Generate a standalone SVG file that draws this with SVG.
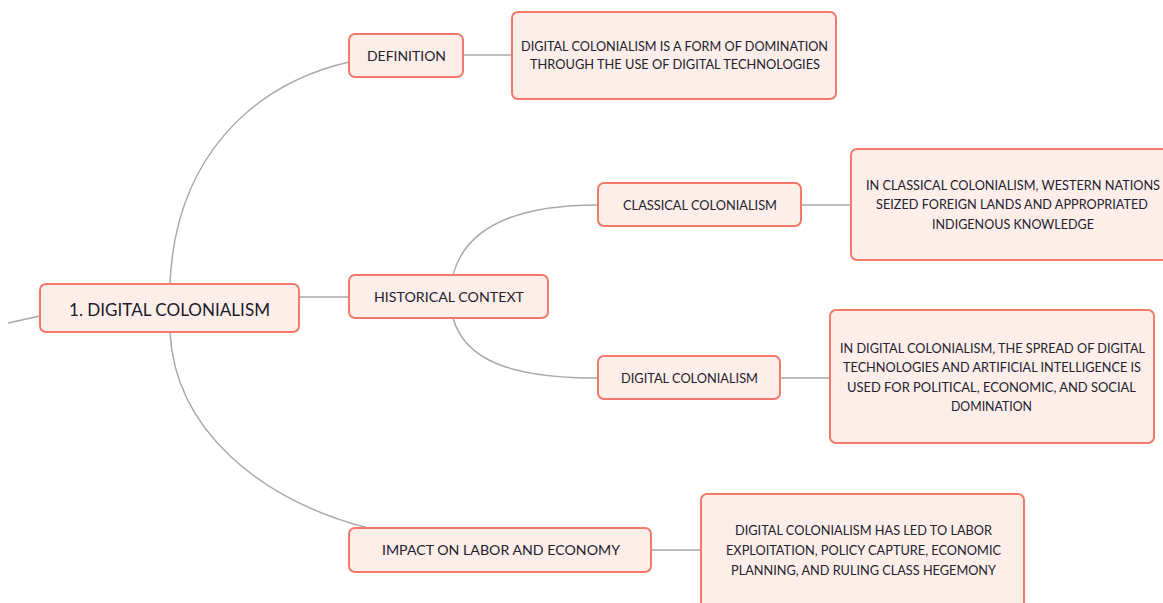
<svg xmlns="http://www.w3.org/2000/svg" width="1163" height="603" viewBox="0 0 1163 603">
  <style>
    .box { fill: #fdeee9; stroke: #f4786a; stroke-width: 2; }
    .lbl { font-family: Lato, "Open Sans", sans-serif; font-size: 13px; fill: #22222e; text-anchor: middle; dominant-baseline: central; }
    .txt { font-family: Lato, "Open Sans", sans-serif; font-size: 12.5px; fill: #22222e; text-anchor: middle; dominant-baseline: central; }
    .root { font-family: Lato, "Open Sans", sans-serif; font-size: 17px; fill: #1a1a28; text-anchor: middle; dominant-baseline: central; }
    .link { fill: none; stroke: #a9a9a9; stroke-width: 1.5; }
  </style>
  <rect width="1163" height="603" fill="#ffffff"/>

  <g id="connectors">
    <path class="link" d="M8,323 L40,316"/>
    <path class="link" d="M170,284 C175,160 250,85 349,62"/>
    <path class="link" d="M299,297 L349,297"/>
    <path class="link" d="M170,332 C175,430 260,500 368,528"/>
    <path class="link" d="M463,55 L512,55"/>
    <path class="link" d="M453,275 C465,230 510,205 598,205"/>
    <path class="link" d="M453,318 C465,360 510,378 598,378"/>
    <path class="link" d="M801,205 L851,205"/>
    <path class="link" d="M780,378 L830,378"/>
    <path class="link" d="M651,550 L701,550"/>
  </g>

  <g id="root">
    <rect class="box" x="40" y="284" width="259" height="48" rx="6"/>
    <text class="root" x="169.5" y="309" textLength="201" lengthAdjust="spacingAndGlyphs">1. DIGITAL COLONIALISM</text>
  </g>

  <g id="definition">
    <rect class="box" x="349" y="34" width="114" height="43" rx="6"/>
    <text class="lbl" x="406.5" y="55.5" textLength="79" lengthAdjust="spacingAndGlyphs">DEFINITION</text>
  </g>
  <g id="definition-detail">
    <rect class="box" x="512" y="12" width="324" height="87" rx="6"/>
    <text class="txt" x="674.5" y="46" textLength="307" lengthAdjust="spacingAndGlyphs">DIGITAL COLONIALISM IS A FORM OF DOMINATION</text>
    <text class="txt" x="675" y="64.5" textLength="290" lengthAdjust="spacingAndGlyphs">THROUGH THE USE OF DIGITAL TECHNOLOGIES</text>
  </g>

  <g id="historical-context">
    <rect class="box" x="349" y="275" width="199" height="43" rx="6"/>
    <text class="lbl" x="449" y="297" textLength="150" lengthAdjust="spacingAndGlyphs">HISTORICAL CONTEXT</text>
  </g>

  <g id="classical-colonialism">
    <rect class="box" x="598" y="183" width="203" height="43" rx="6"/>
    <text class="lbl" x="700" y="205" textLength="154" lengthAdjust="spacingAndGlyphs">CLASSICAL COLONIALISM</text>
  </g>
  <g id="classical-detail">
    <rect class="box" x="851" y="149" width="324" height="111" rx="6"/>
    <text class="txt" x="1013" y="185" textLength="294" lengthAdjust="spacingAndGlyphs">IN CLASSICAL COLONIALISM, WESTERN NATIONS</text>
    <text class="txt" x="1012" y="204.5" textLength="272" lengthAdjust="spacingAndGlyphs">SEIZED FOREIGN LANDS AND APPROPRIATED</text>
    <text class="txt" x="1013" y="224" textLength="162" lengthAdjust="spacingAndGlyphs">INDIGENOUS KNOWLEDGE</text>
  </g>

  <g id="digital-colonialism">
    <rect class="box" x="598" y="356" width="182" height="43" rx="6"/>
    <text class="lbl" x="689.5" y="378" textLength="137" lengthAdjust="spacingAndGlyphs">DIGITAL COLONIALISM</text>
  </g>
  <g id="digital-detail">
    <rect class="box" x="830" y="310" width="324" height="133" rx="6"/>
    <text class="txt" x="992.5" y="348" textLength="305" lengthAdjust="spacingAndGlyphs">IN DIGITAL COLONIALISM, THE SPREAD OF DIGITAL</text>
    <text class="txt" x="992" y="367.5" textLength="298" lengthAdjust="spacingAndGlyphs">TECHNOLOGIES AND ARTIFICIAL INTELLIGENCE IS</text>
    <text class="txt" x="991.5" y="387" textLength="289" lengthAdjust="spacingAndGlyphs">USED FOR POLITICAL, ECONOMIC, AND SOCIAL</text>
    <text class="txt" x="991.5" y="406.5" textLength="81" lengthAdjust="spacingAndGlyphs">DOMINATION</text>
  </g>

  <g id="impact">
    <rect class="box" x="349" y="528" width="302" height="44" rx="6"/>
    <text class="lbl" x="501" y="550" textLength="238" lengthAdjust="spacingAndGlyphs">IMPACT ON LABOR AND ECONOMY</text>
  </g>
  <g id="impact-detail">
    <rect class="box" x="701" y="494" width="323" height="115" rx="6"/>
    <text class="txt" x="863.5" y="530" textLength="257" lengthAdjust="spacingAndGlyphs">DIGITAL COLONIALISM HAS LED TO LABOR</text>
    <text class="txt" x="863.5" y="550" textLength="275" lengthAdjust="spacingAndGlyphs">EXPLOITATION, POLICY CAPTURE, ECONOMIC</text>
    <text class="txt" x="863.5" y="570" textLength="265" lengthAdjust="spacingAndGlyphs">PLANNING, AND RULING CLASS HEGEMONY</text>
  </g>
</svg>
